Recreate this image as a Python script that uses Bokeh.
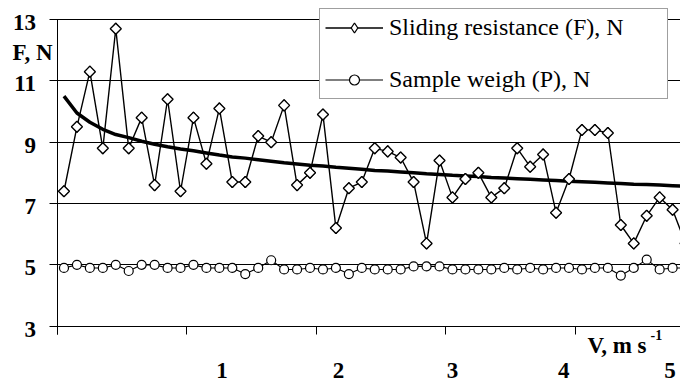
import numpy as np
from bokeh.plotting import figure
from bokeh.models import (Range1d, FixedTicker, Grid, Legend, LegendItem,
                          LabelSet, ColumnDataSource)
from bokeh.embed import file_html
from bokeh.resources import INLINE

# ---- data ----
categories = list(range(1, 50))
sliding = [7.4, 9.5, 11.3, 8.8, 12.7, 8.8, 9.8, 7.6, 10.4, 7.4,
           9.8, 8.3, 10.1, 7.7, 7.7, 9.2, 9.0, 10.2, 7.6, 8.0,
           9.9, 6.2, 7.5, 7.7, 8.8, 8.7, 8.5, 7.7, 5.7, 8.4,
           7.2, 7.8, 8.0, 7.2, 7.5, 8.8, 8.2, 8.6, 6.7, 7.8,
           9.4, 9.4, 9.3, 6.3, 5.7, 6.6, 7.2, 6.8, 5.7]
weight = [4.9, 5.0, 4.9, 4.9, 5.0, 4.8, 5.0, 5.0, 4.9, 4.9,
          5.0, 4.9, 4.9, 4.9, 4.7, 4.9, 5.15, 4.85, 4.85, 4.9,
          4.85, 4.9, 4.7, 4.9, 4.85, 4.85, 4.85, 4.95, 4.95, 4.95,
          4.85, 4.85, 4.85, 4.85, 4.9, 4.85, 4.9, 4.85, 4.9, 4.9,
          4.85, 4.9, 4.9, 4.65, 4.9, 5.17, 4.85, 4.9, 4.9]
trend = [10.5, 9.95, 9.65, 9.42, 9.25, 9.15, 9.03, 8.93, 8.85, 8.78,
         8.72, 8.65, 8.58, 8.52, 8.48, 8.43, 8.38, 8.33, 8.29, 8.25,
         8.22, 8.18, 8.15, 8.12, 8.08, 8.06, 8.03, 8.0, 7.97, 7.95,
         7.92, 7.9, 7.88, 7.85, 7.83, 7.81, 7.79, 7.77, 7.75, 7.73,
         7.71, 7.69, 7.67, 7.65, 7.63, 7.62, 7.6, 7.58, 7.56]
y_ticks = [3, 5, 7, 9, 11, 13]
y_tick_labels = ["3", "5", "7", "9", "11", "13"]
x_tick_marks = [0.5, 10.5, 20.5, 30.5, 40.5]
x_tick_labels = ["1", "2", "3", "4", "5"]
x_label_pos = [13.2, 22.2, 31.0, 39.6, 47.8]
series_names = ["Sliding resistance (F), N", "Sample weigh (P), N"]
y_title = "F, N"
x_title = "V, m s"
x_title_sup = "-1"

FONT = "Liberation Serif"
X0, Y0, YTOP = x_tick_marks[0], y_ticks[0], y_ticks[-1]   # axis origin / top

# the frame covers the whole canvas; the axis frame is drawn inside it
p = figure(width=680, height=383, output_backend="svg", toolbar_location=None,
           title=None,
           x_range=Range1d(-3.9015, 48.61), y_range=Range1d(1.1317, 13.6195),
           x_axis_type=None, y_axis_type=None, min_border=0)
p.outline_line_color = None
p.background_fill_color = "white"
p.border_fill_color = "white"

TICK = 8  # tick length, px
x_tick_len = TICK / 12.95
y_tick_len = TICK / 30.67

# horizontal gridlines (the one at 3 is the x axis line); they begin at the tick ends
p.add_layout(Grid(dimension=1, ticker=FixedTicker(ticks=y_ticks),
                  cross_bounds=(X0 - x_tick_len, 48.61),
                  grid_line_color="black", grid_line_width=1))
# y axis line (extends down by one tick)
p.add_layout(Grid(dimension=0, ticker=FixedTicker(ticks=[X0]),
                  cross_bounds=(Y0 - y_tick_len, YTOP),
                  grid_line_color="black", grid_line_width=1))
# x tick marks
p.add_layout(Grid(dimension=0, ticker=FixedTicker(ticks=x_tick_marks),
                  cross_bounds=(Y0 - y_tick_len, Y0),
                  grid_line_color="black", grid_line_width=1))


def labels(src, **kw):
    base = dict(text_font=FONT, text_font_style="bold", text_font_size="23px",
                text_color="black", text_baseline="alphabetic")
    base.update(kw)
    p.add_layout(LabelSet(source=ColumnDataSource(data=src), text="text", **base))


# y tick labels
labels(dict(y=y_ticks, text=y_tick_labels), x=X0, y="y",
       x_offset=-21.5, y_offset=-10.5, text_align="right")
# x tick labels (placed as in the reference)
labels(dict(x=x_label_pos, text=x_tick_labels), x="x", y=Y0,
       y_offset=-52, text_align="center")
# axis titles
labels(dict(text=[y_title]), x=X0, y=YTOP, x_offset=-45, y_offset=-40)
labels(dict(text=[x_title]), x=X0, y=Y0, x_offset=530, y_offset=-27.3)
labels(dict(text=[x_title_sup]), x=X0, y=Y0, x_offset=593, y_offset=-14.3,
       text_font_size="14px")

# series
l1 = p.line(categories, sliding, line_color="black", line_width=1.4)
l2 = p.line(categories, weight, line_color="black", line_width=1.1)
p.line(categories, trend, line_color="black", line_width=3.5)
# legend proxy (hidden beneath the rotated squares)
s1_leg = p.scatter(categories, sliding, marker="diamond", size=11,
                   fill_color="white", line_color="black", line_width=1.3)
s1 = p.scatter(categories, sliding, marker="square", size=7.8, angle=np.pi / 4,
               fill_color="white", line_color="black", line_width=1.4)
s2 = p.scatter(categories, weight, marker="circle", size=9,
               fill_color="white", line_color="black", line_width=1.2)

legend = Legend(items=[LegendItem(label=series_names[0], renderers=[l1, s1_leg]),
                       LegendItem(label=series_names[1], renderers=[l2, s2])],
                location=(319, 284), orientation="vertical",
                label_text_font=FONT, label_text_font_size="24px",
                label_text_color="black",
                glyph_width=58, glyph_height=25, label_standoff=6, label_width=273,
                padding=5, spacing=25, margin=0,
                border_line_color="#404040", border_line_width=1,
                background_fill_color="white", background_fill_alpha=1.0)
p.add_layout(legend)

open("out.html", "w").write(file_html(p, INLINE))
